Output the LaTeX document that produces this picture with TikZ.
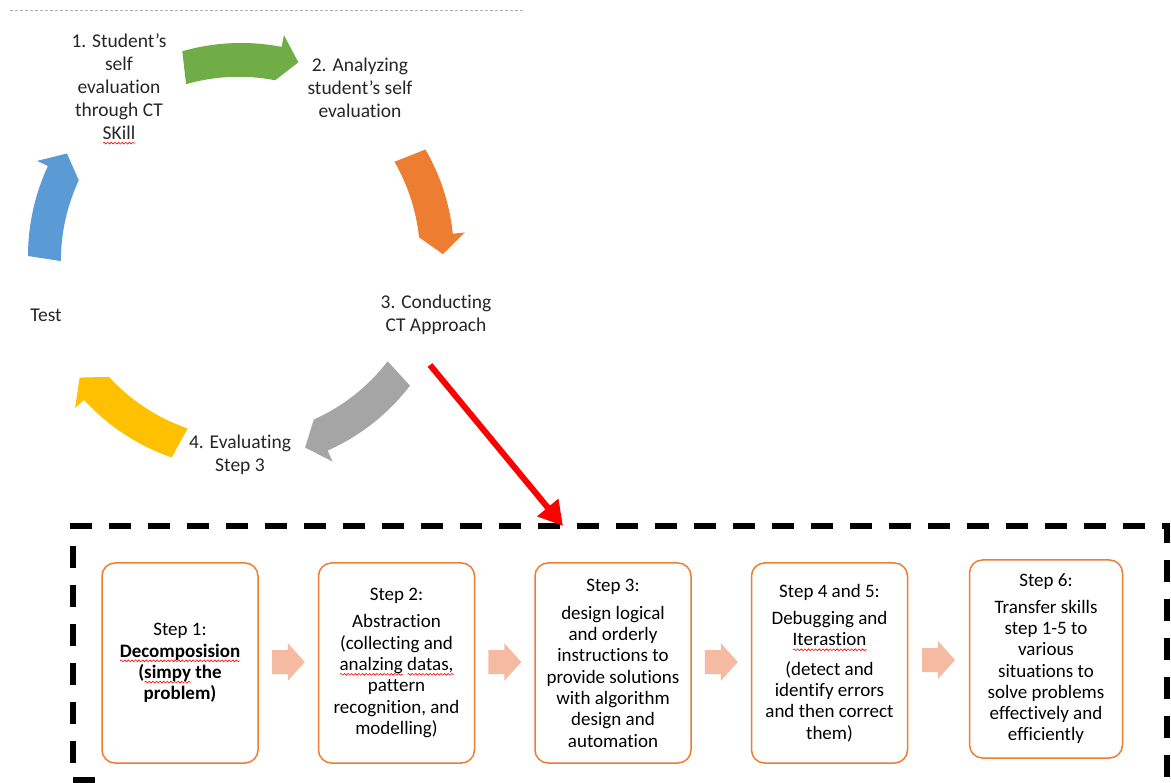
\documentclass[tikz,border=0pt]{standalone}
\usepackage{fontspec}
\setmainfont{Carlito}[Ligatures={NoCommon}]
\usetikzlibrary{arrows.meta,calc,decorations.pathmorphing}

\definecolor{ctgreen}{HTML}{70AD47}
\definecolor{ctorange}{HTML}{ED7D31}
\definecolor{ctgray}{HTML}{A5A5A5}
\definecolor{ctyellow}{HTML}{FFC000}
\definecolor{ctblue}{HTML}{5B9BD5}
\definecolor{ctpale}{HTML}{F4BAA2}

\newsavebox\spellbox
\newcommand\spell[1]{\sbox\spellbox{#1}\rlap{\tikz[baseline=0pt]\draw[red, line width=0.6pt, sharp corners, solid,
	decorate, decoration={snake, amplitude=0.9pt, segment length=3.6pt}] (0pt,-3.8pt) -- (\wd\spellbox,-3.8pt);}\usebox\spellbox}

\newcommand\cyclearrow[3]{%
	\pgfmathsetmacro\headbase{#3+5.5}
	\fill[#1, shift={(241,-256)}] (#2:213) arc[start angle=#2, end angle=\headbase, radius=213pt]
		-- (\headbase:225) -- (#3:202) -- (\headbase:179)
		arc[start angle=\headbase, end angle=#2, radius=191pt] -- cycle;}

\tikzset{
	cyctext/.style={align=center, inner sep=0pt, text=black!85, font=\fontsize{19.5}{23}\selectfont},
	stepbox/.style={draw=ctorange, line width=1.5pt, rounded corners=13pt, minimum width=156pt,
		minimum height=200pt, align=center, inner sep=0pt, font=\fontsize{19}{21.3}\selectfont},
	boxarrow/.style={fill=ctpale}
}

\begin{document}
\begin{tikzpicture}[x=1pt, y=1pt]
	\useasboundingbox (0,0) rectangle (1171,-783);
	\draw[gray!60, line width=1pt, dash pattern=on 3pt off 2pt] (10,-11) -- (525,-11);

	% cycle
	\node[cyctext] (c1) at (119,-89) {1. Student’s\\self\\evaluation\\through CT\\\spell{SKill}};
	\node[cyctext] (c2) at (360,-88) {2. Analyzing\\student’s self\\evaluation};
	\node[cyctext] (c3) at (436,-315) {3. Conducting\\CT Approach};
	\node[cyctext] (c4) at (240,-455) {4. Evaluating\\Step 3};
	\node[cyctext] (c5) at (46,-315) {Test};
	\cyclearrow{ctgreen}{106}{73.5}
	\cyclearrow{ctorange}{30}{0.5}
	\cyclearrow{ctgray}{-37.5}{-71.5}
	\cyclearrow{ctyellow}{-109}{-143}
	\cyclearrow{ctblue}{180}{149.5}

	% frame and red arrow
	\draw[line width=6pt, dash pattern=on 22pt off 17pt] (95,-780) -- (73,-780) -- (73,-526) -- (1167,-526) -- (1167,-790);
	\coordinate (redstart) at (430,-365);
	\coordinate (frametop) at (563,-526);
	\draw[red, line width=6pt, -{Triangle[length=24pt, width=26pt]}] (redstart) -- (frametop);

	% steps
	\node[stepbox] (b1) at (180,-663) {Step 1:\\\textbf{\spell{Decomposision}}\\\textbf{(\spell{simpy} the}\\\textbf{problem)}};
	\node[stepbox] (b2) at (396.5,-663) {Step 2:\\[6pt]Abstraction\\(collecting and\\\spell{analzing} \spell{datas,}\\pattern\\recognition, and\\modelling)};
	\node[stepbox] (b3) at (613,-663) {Step 3:\\[7pt]design logical\\and orderly\\instructions to\\provide solutions\\with algorithm\\design and\\automation};
	\node[stepbox] (b4) at (829.5,-663) {Step 4 and 5:\\[6pt]Debugging and\\\spell{Iterastion}\\[8pt](detect and\\identify errors\\and then correct\\them)};
	\node[stepbox, minimum width=153pt, minimum height=198pt] (b5) at (1046,-659) {Step 6:\\[5pt]Transfer skills\\step 1-5 to\\various\\situations to\\solve problems\\effectively and\\efficiently};
	\foreach \i/\j in {1/2,2/3,3/4,4/5} {
		\coordinate (a\i) at ($(b\i.east)!0.5!(b\j.west)+(0,1)$);
		\fill[boxarrow] (a\i) ++(-16.5,12) -- ++(16,0) -- ++(0,7) -- ++(17,-19) -- ++(-17,-19) -- ++(0,7) -- ++(-16,0) -- cycle;
	}
\end{tikzpicture}
\end{document}
